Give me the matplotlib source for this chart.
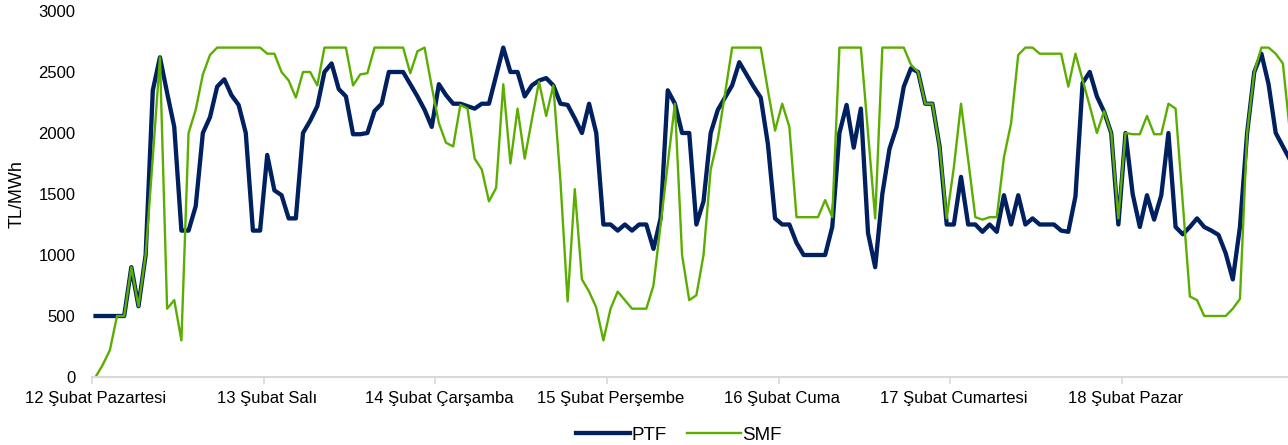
import matplotlib

matplotlib.use("Agg")
import matplotlib.pyplot as plt
import numpy as np

DAYS = [
    "12 Şubat Pazartesi",
    "13 Şubat Salı",
    "14 Şubat Çarşamba",
    "15 Şubat Perşembe",
    "16 Şubat Cuma",
    "17 Şubat Cumartesi",
    "18 Şubat Pazar",
]

# hourly prices, TL/MWh (7 days x 24 h)
PTF = [
    500, 500, 500, 500, 500, 900, 580, 1000, 2350, 2620, 2330, 2050,
    1200, 1200, 1400, 2000, 2130, 2380, 2440, 2310, 2230, 2000, 1200, 1200,
    1820, 1530, 1490, 1300, 1300, 2000, 2100, 2220, 2500, 2570, 2360, 2300,
    1990, 1990, 2000, 2180, 2240, 2500, 2500, 2500, 2400, 2300, 2190, 2050,
    2400, 2310, 2240, 2240, 2220, 2200, 2240, 2240, 2470, 2700, 2500, 2500,
    2300, 2390, 2430, 2450, 2390, 2240, 2230, 2120, 2000, 2240, 2000, 1250,
    1250, 1200, 1250, 1200, 1250, 1250, 1050, 1300, 2350, 2240, 2000, 2000,
    1250, 1440, 2000, 2190, 2290, 2390, 2580, 2480, 2380, 2290, 1910, 1300,
    1250, 1250, 1100, 1000, 1000, 1000, 1000, 1230, 2000, 2230, 1880, 2200,
    1180, 900, 1500, 1870, 2050, 2380, 2530, 2500, 2240, 2240, 1890, 1250,
    1250, 1640, 1250, 1250, 1190, 1250, 1190, 1490, 1250, 1490, 1250, 1300,
    1250, 1250, 1250, 1200, 1190, 1480, 2410, 2500, 2300, 2175, 2000, 1250,
    2000, 1500, 1230, 1490, 1290, 1490, 2000, 1230, 1170, 1230, 1300, 1230,
    1200, 1165, 1015, 800, 1230, 2000, 2500, 2650, 2400, 2000, 1890, 1780,
]
SMF = [
    0, 100, 220, 500, 500, 900, 580, 1000, 1800, 2620, 560, 630,
    300, 2000, 2190, 2480, 2640, 2700, 2700, 2700, 2700, 2700, 2700, 2700,
    2650, 2650, 2500, 2430, 2290, 2500, 2500, 2390, 2700, 2700, 2700, 2700,
    2390, 2480, 2490, 2700, 2700, 2700, 2700, 2700, 2490, 2670, 2700, 2380,
    2080, 1920, 1890, 2230, 2200, 1790, 1700, 1440, 1550, 2400, 1750, 2200,
    1790, 2110, 2420, 2140, 2390, 1600, 620, 1540, 800, 700, 570, 300,
    560, 700, 630, 560, 560, 560, 750, 1250, 1750, 2240, 1000, 630,
    670, 1000, 1700, 1950, 2320, 2700, 2700, 2700, 2700, 2700, 2350, 2020,
    2240, 2050, 1310, 1310, 1310, 1310, 1450, 1310, 2700, 2700, 2700, 2700,
    2000, 1300, 2700, 2700, 2700, 2700, 2560, 2500, 2240, 2240, 1890, 1300,
    1720, 2240, 1780, 1310, 1290, 1310, 1310, 1800, 2080, 2640, 2700, 2700,
    2650, 2650, 2650, 2650, 2380, 2650, 2435, 2220, 2000, 2180, 2000, 1300,
    2000, 1990, 1990, 2140, 1990, 1990, 2240, 2200, 1430, 660, 630, 500,
    500, 500, 500, 560, 640, 2000, 2500, 2700, 2700, 2650, 2570, 2000,
]

COLORS = {"PTF": "#002060", "SMF": "#5BAE00", "axis": "#D9D9D9"}
FONT = ["Liberation Sans", "DejaVu Sans"]


def main():
    plt.rcParams["font.family"] = FONT
    fig = plt.figure(figsize=(12.88, 4.45), dpi=100)
    # right edge of the plot area is slightly cut off in the original
    ax = fig.add_axes([92 / 1288, 68 / 445, 1201.6 / 1288, 366 / 445])

    hours = np.arange(len(PTF))
    ax.plot(hours, PTF, color=COLORS["PTF"], lw=3.1, label="PTF", solid_joinstyle="round")
    ax.plot(hours, SMF, color=COLORS["SMF"], lw=1.7, label="SMF", solid_joinstyle="round")

    ax.set_xlim(-0.5, len(PTF) - 0.5)
    ax.set_ylim(0, 3000)
    ax.set_yticks(range(0, 3001, 500))
    ax.tick_params(axis="y", length=0, labelsize=12, pad=12)
    ax.set_ylabel("TL/MWh", fontsize=13, labelpad=9)

    # tick marks on day boundaries, labels at the first hour of each day
    ax.set_xticks(np.arange(len(DAYS)) * 24 - 0.5)
    ax.set_xticklabels([])
    ax.tick_params(axis="x", which="major", length=5, width=1.2, color=COLORS["axis"])
    ax.set_xticks(np.arange(len(DAYS)) * 24, minor=True)
    ax.set_xticklabels(DAYS, minor=True)
    ax.tick_params(axis="x", which="minor", length=0, labelsize=12, pad=10)

    for side in ["top", "right", "left"]:
        ax.spines[side].set_visible(False)
    ax.spines["bottom"].set_color(COLORS["axis"])
    ax.spines["bottom"].set_linewidth(1.5)

    fig.legend(
        loc="center",
        bbox_to_anchor=(0.527, 0.022),
        ncol=2,
        frameon=False,
        fontsize=13.5,
        handlelength=2.9,
        handletextpad=0.05,
        columnspacing=1.1,
    )
    fig.savefig("out.png", dpi=100)


if __name__ == "__main__":
    main()
